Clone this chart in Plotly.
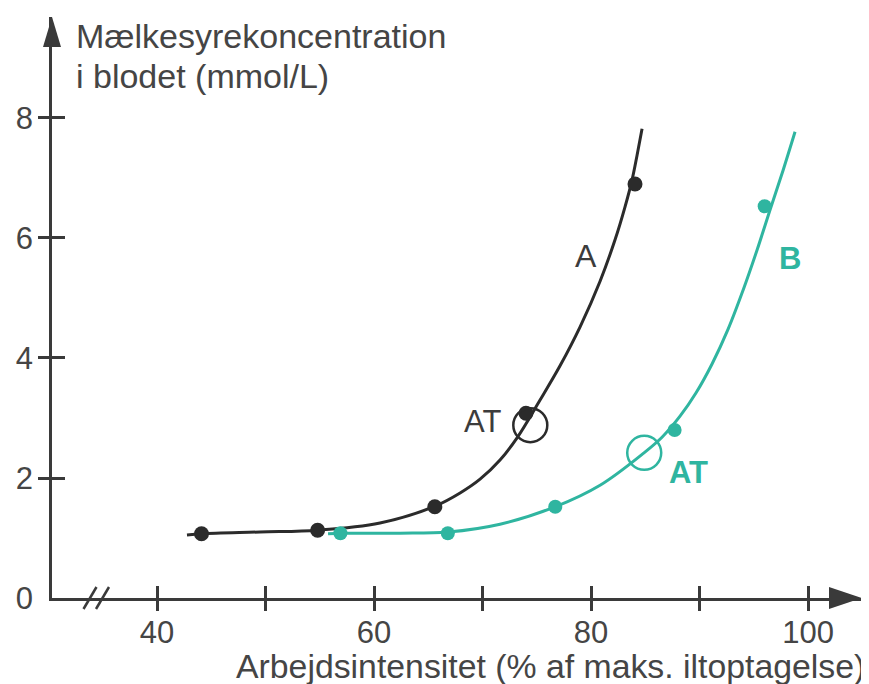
import plotly.graph_objects as go

# ---------------- data ----------------
# measured points, curve A (black) and curve B (teal)
a_x = [44.1, 54.8, 65.6, 74.0, 84.05]
a_y = [1.07, 1.13, 1.52, 3.08, 6.90]
b_x = [56.9, 66.8, 76.7, 87.7, 96.0]
b_y = [1.08, 1.08, 1.52, 2.80, 6.53]

# hand-drawn fitted curves
curve_a_x = [42.76, 44.15, 49.49, 54.84, 60.55, 65.62, 67.93, 69.77, 71.61, 73.18, 75.3,
             77.14, 78.99, 80.83, 82.21, 83.13, 83.78, 84.24, 84.7]
curve_a_y = [1.05, 1.07, 1.10, 1.13, 1.25, 1.53, 1.75, 1.98, 2.30, 2.67, 3.30,
             3.87, 4.52, 5.28, 5.97, 6.52, 6.97, 7.38, 7.82]
curve_b_x = [55.76, 57.05, 62.4, 66.82, 71.61, 76.68, 80.83, 84.88, 86.54, 88.2, 89.68,
             91.15, 92.63, 94.01, 95.3, 96.5, 97.7, 98.8]
curve_b_y = [1.07, 1.08, 1.08, 1.10, 1.23, 1.52, 1.88, 2.42, 2.68, 3.03, 3.42,
             3.90, 4.48, 5.13, 5.80, 6.47, 7.13, 7.77]

# anaerobic threshold (AT) markers
at_a = (74.4, 2.88)
at_b = (84.9, 2.42)

x_ticks = [40, 50, 60, 70, 80, 90, 100]
x_ticktext = ["40", "", "60", "", "80", "", "100"]
y_label_vals = [0, 2, 4, 6, 8]
y_tick_vals = [2, 4, 6, 8]

y_title_1 = "Mælkesyrekoncentration"
y_title_2 = "i blodet (mmol/L)"
x_title = "Arbejdsintensitet (% af maks. iltoptagelse)"

# ---------------- style / layout ----------------
W, H = 869, 684
OFF = 8  # page body margin: the figure is shown shifted by this many px
# plot area in screen pixels: left 52, right 862, top 17, bottom 598
ML = 52 - OFF
MR = W - (862 - OFF)
MT = 17 - OFF
MB = H - (598 - OFF)
XR = [30.32, 104.97]
YR = [0, 9.683]
BLACK = "#2b2b2b"
TEAL = "#2fb5a0"
AXC = "#3a3a3a"
TXT = "#454545"
FONT = "Liberation Sans, Arial, sans-serif"

pw, ph = W - ML - MR, H - MT - MB


def fx(p):
    return (p - OFF - ML) / pw


def fy(p):
    return (H - MB - (p - OFF)) / ph


fig = go.Figure()

fig.add_trace(go.Scatter(x=curve_a_x, y=curve_a_y, mode="lines",
                         line=dict(color=BLACK, width=3, shape="spline", smoothing=1.0),
                         hoverinfo="skip", showlegend=False))
fig.add_trace(go.Scatter(x=curve_b_x, y=curve_b_y, mode="lines",
                         line=dict(color=TEAL, width=3, shape="spline", smoothing=1.0),
                         hoverinfo="skip", showlegend=False))
fig.add_trace(go.Scatter(x=a_x, y=a_y, mode="markers",
                         marker=dict(color=BLACK, size=15), showlegend=False))
fig.add_trace(go.Scatter(x=b_x, y=b_y, mode="markers",
                         marker=dict(color=TEAL, size=14), showlegend=False))
fig.add_trace(go.Scatter(x=[at_a[0]], y=[at_a[1]], mode="markers",
                         marker=dict(symbol="circle-open", size=34, color=BLACK,
                                     line=dict(width=2.5, color=BLACK)), showlegend=False))
fig.add_trace(go.Scatter(x=[at_b[0]], y=[at_b[1]], mode="markers",
                         marker=dict(symbol="circle-open", size=34, color=TEAL,
                                     line=dict(width=2.5, color=TEAL)), showlegend=False))
# empty traces so the overlay tick axes are built
fig.add_trace(go.Scatter(x=[], y=[], xaxis="x2", yaxis="y", showlegend=False))
fig.add_trace(go.Scatter(x=[], y=[], xaxis="x", yaxis="y2", showlegend=False))
fig.add_trace(go.Scatter(x=[], y=[], xaxis="x", yaxis="y3", showlegend=False))

tickfont = dict(family=FONT, size=31, color=TXT)
common = dict(showgrid=False, zeroline=False, automargin=False)

fig.update_layout(
    template="none",
    width=W, height=H,
    margin=dict(l=ML, r=MR, t=MT, b=MB, autoexpand=False),
    paper_bgcolor="white", plot_bgcolor="white",
    showlegend=False,
    xaxis=dict(range=XR, tickvals=x_ticks, ticktext=x_ticktext, ticks="inside",
               ticklen=12, tickwidth=2.5, tickcolor=AXC, showline=True, linecolor=AXC,
               linewidth=2.5, tickfont=tickfont, ticklabelstandoff=5, **common),
    xaxis2=dict(range=XR, overlaying="x", anchor="y", side="bottom", tickvals=x_ticks,
                ticks="outside", ticklen=12, tickwidth=2.5, tickcolor=AXC,
                showticklabels=False, showline=False, **common),
    yaxis=dict(range=YR, tickvals=y_label_vals, ticks="", showline=True, linecolor=AXC,
               linewidth=2.5, tickfont=tickfont, ticklabelstandoff=10, **common),
    yaxis2=dict(range=YR, overlaying="y", anchor="x", side="left", tickvals=y_tick_vals,
                ticks="outside", ticklen=13, tickwidth=2.5, tickcolor=AXC,
                showticklabels=False, showline=False, **common),
    yaxis3=dict(range=YR, overlaying="y", anchor="x", side="left", tickvals=y_tick_vals,
                ticks="inside", ticklen=13, tickwidth=2.5, tickcolor=AXC,
                showticklabels=False, showline=False, **common),
)

# axis arrowheads and axis break
fig.add_shape(type="path", xref="paper", yref="paper", xsizemode="pixel", ysizemode="pixel",
              xanchor=1, yanchor=0, path="M -33,-11 L 0,0 L -33,11 Z",
              fillcolor=AXC, line=dict(width=0))
fig.add_shape(type="path", xref="paper", yref="paper", xsizemode="pixel", ysizemode="pixel",
              xanchor=0, yanchor=1, path="M -9,-30 L 0,0 L 9,-30 Z",
              fillcolor=AXC, line=dict(width=0))
for cx in (90, 102.5):
    fig.add_shape(type="line", xref="paper", yref="paper", xsizemode="pixel", ysizemode="pixel",
                  xanchor=fx(cx), yanchor=0, x0=-6.5, y0=-11, x1=6.5, y1=11,
                  line=dict(color=AXC, width=2.5))


# texts (positions given in screen pixels of the reference)
def note(text, x, y, size, color, xanchor="center", yanchor="middle"):
    fig.add_annotation(text=text, xref="paper", yref="paper", x=fx(x), y=fy(y),
                       xanchor=xanchor, yanchor=yanchor, showarrow=False,
                       font=dict(family=FONT, size=size, color=color))


note(y_title_1, 74, 36, 34, TXT, xanchor="left")
note(y_title_2, 74, 76, 34, TXT, xanchor="left")
note(x_title, 867, 666, 33.8, TXT, xanchor="right")
note("A", 586, 256, 32, "#3c3c3c")
note("AT", 482, 422, 31, "#3c3c3c")
note("<b>B</b>", 790, 258, 31, TEAL)
note("<b>AT</b>", 688, 472, 31, TEAL)

fig.write_html("out.html")
